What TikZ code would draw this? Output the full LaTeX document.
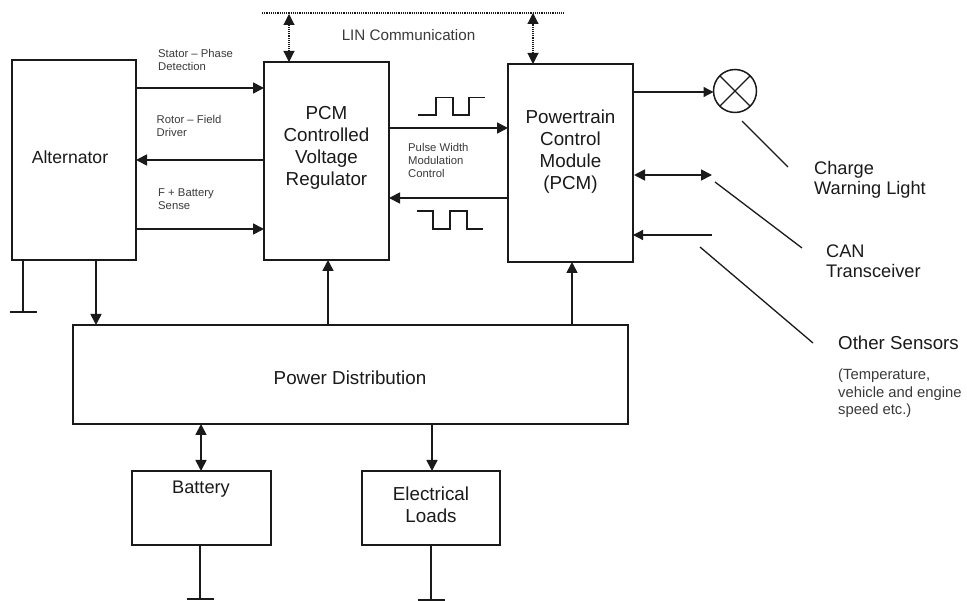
\documentclass[tikz,border=0pt]{standalone}
\usepackage{fontspec}
\setmainfont{Liberation Sans}
\usetikzlibrary{arrows.meta}
\definecolor{ink}{HTML}{1A1A1A}
\definecolor{softink}{HTML}{3A3A3A}
\tikzset{
  blockbox/.style={draw=ink,line width=2pt,inner sep=0pt,outer sep=0pt,fill=white},
  wire/.style={draw=ink,line width=1.7pt,-{Triangle[length=11pt,width=11pt]}},
  wirethin/.style={draw=ink,line width=1.3pt,-{Triangle[length=10pt,width=10pt]}},
  biwire/.style={draw=ink,line width=1.7pt,{Triangle[length=11pt,width=11pt]}-{Triangle[length=11pt,width=11pt]}},
  dotwire/.style={draw=ink,line width=1.1pt,densely dotted,{Triangle[length=11pt,width=11pt]}-{Triangle[length=11pt,width=11pt]}},
  plain/.style={draw=ink,line width=1.3pt},
  ground/.style={draw=ink,line width=1.7pt},
  big/.style={font=\fontsize{18.8}{22}\selectfont,text=ink,align=center,inner sep=0pt},
  side/.style={font=\fontsize{18.2}{20.5}\selectfont,text=ink,align=left,inner sep=0pt,anchor=base west},
  small/.style={font=\fontsize{11.3}{13.3}\selectfont,text=softink,align=left,inner sep=0pt,anchor=base west},
  note/.style={font=\fontsize{14.8}{17.5}\selectfont,text=softink,align=left,inner sep=0pt,anchor=base west},
}
\begin{document}
\begin{tikzpicture}[x=1pt,y=-1pt]
\useasboundingbox (0,0) rectangle (967,601);
\fill[white] (0,0) rectangle (967,601);
% blocks
\node[blockbox,minimum width=124pt,minimum height=200pt] (alt) at (74,160) {};
\node[blockbox,minimum width=125pt,minimum height=198pt] (reg) at (326.5,161) {};
\node[blockbox,minimum width=125pt,minimum height=198pt] (pcm) at (570.5,163) {};
\node[blockbox,minimum width=555pt,minimum height=99pt] (pd) at (350.5,374.5) {};
\node[blockbox,minimum width=139pt,minimum height=74pt] (bat) at (201.5,508) {};
\node[blockbox,minimum width=138pt,minimum height=74pt] (loads) at (431,508) {};
% block texts
\node[big,font=\fontsize{17.6}{22}\selectfont] (altT) at (70,157) {Alternator};
\node[big] (regT) at (326.5,147.5) {PCM\\Controlled\\Voltage\\Regulator};
\node[big] (pcmT) at (570.5,151.5) {Powertrain\\Control\\Module\\(PCM)};
\node[big] (pdT) at (350,378) {Power Distribution};
\node[big,font=\fontsize{18.2}{22}\selectfont] (batT) at (201,489) {Battery};
\node[big] (loadsT) at (431,505) {Electrical\\Loads};
% LIN bus
\coordinate (linL) at (262,13);
\coordinate (linR) at (564,13);
\draw[draw=ink,line width=1.2pt,densely dotted] (linL) -- (linR);
\node[font=\fontsize{15.2}{17}\selectfont,text=softink,inner sep=0pt] (linT) at (408.5,35) {LIN Communication};
\draw[dotwire] (reg.north -| 289,0) -- (289,14);
\draw[dotwire] (pcm.north -| 533,0) -- (533,13);
% alternator <-> regulator
\draw[wire] (alt.east |- 0,88) -- (reg.west |- 0,88);
\draw[wire] (reg.west |- 0,160) -- (alt.east |- 0,160);
\draw[wire] (alt.east |- 0,229) -- (reg.west |- 0,229);
\node[small] (l1) at (158,71) {Stator – Phase\\Detection};
\node[small] (l2) at (156.5,137) {Rotor – Field\\Driver};
\node[small] (l3) at (158,210) {F + Battery\\Sense};
% regulator <-> pcm
\draw[wire] (reg.east |- 0,128) -- (pcm.west |- 0,128);
\draw[wire] (pcm.west |- 0,198) -- (reg.east |- 0,198);
\node[small] (l4) at (408,178) {Pulse Width\\Modulation\\Control};
\draw[plain] (418,115) -- (436,115) -- (436,97.5) -- (453,97.5) -- (453,115) -- (469,115) -- (469,97.5) -- (485,97.5);
\draw[plain] (417,211) -- (433,211) -- (433,229) -- (450,229) -- (450,211) -- (467,211) -- (467,229) -- (483,229);
% power distribution
\draw[wire] (alt.south -| 96,0) -- (pd.north -| 96,0);
\draw[wire] (pd.north -| 328,0) -- (reg.south -| 328,0);
\draw[wire] (pd.north -| 572,0) -- (pcm.south -| 572,0);
\draw[biwire] (pd.south -| 201,0) -- (bat.north -| 201,0);
\draw[wire] (pd.south -| 432,0) -- (loads.north -| 432,0);
% grounds
\coordinate (g1) at (23,312);
\coordinate (g2) at (200,599);
\coordinate (g3) at (431,600);
\draw[ground] (alt.south -| g1) -- (g1);
\draw[ground] (10,312) -- (37,312);
\draw[ground] (bat.south -| g2) -- (g2);
\draw[ground] (187,599) -- (214,599);
\draw[ground] (loads.south -| g3) -- (g3);
\draw[ground] (418,600) -- (445,600);
% lamp
\node[draw=ink,line width=1.5pt,circle,minimum size=43pt,inner sep=0pt,outer sep=0pt] (lamp) at (735,91) {};
\draw[plain] (lamp.north west) -- (lamp.south east);
\draw[plain] (lamp.north east) -- (lamp.south west);
\draw[wirethin] (pcm.east |- 0,92) -- (lamp.west |- 0,92);
% CAN & sensors
\coordinate (canEnd) at (712,175);
\coordinate (senEnd) at (712,235);
\draw[biwire] ([xshift=1pt]pcm.east |- canEnd) -- (canEnd);
\draw[wirethin] (senEnd) -- (pcm.east |- senEnd);
% leaders
\node[side] (chg) at (814,195) {Charge\\Warning Light};
\node[side] (can) at (826,278) {CAN\\Transceiver};
\node[side,font=\fontsize{18.7}{20.5}\selectfont] (oth) at (838,350) {Other Sensors};
\node[note] (othN) at (838,415) {(Temperature,\\vehicle and engine\\speed etc.)};
\draw[plain] (742,121) -- (788,167);
\draw[plain] (715,182) -- (802,248);
\draw[plain] (700,247) -- (813,343);
\end{tikzpicture}
\end{document}
